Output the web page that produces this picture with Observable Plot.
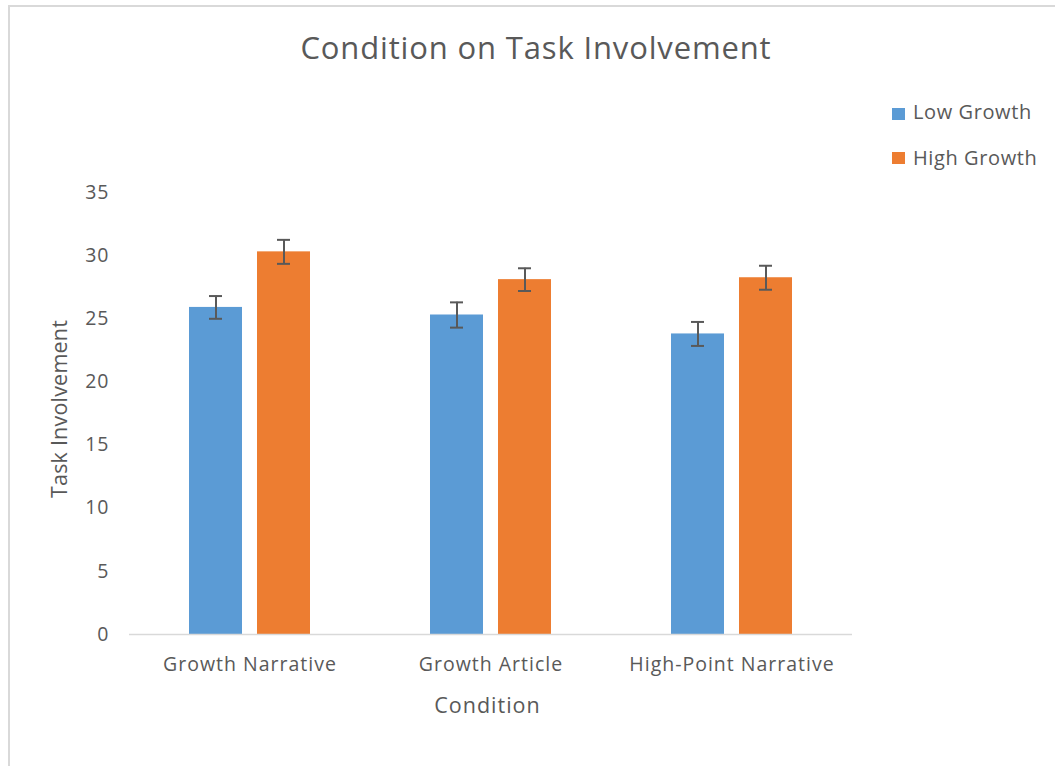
<!DOCTYPE html>
<html>
<head>
<meta charset="utf-8">
<script src="https://cdn.jsdelivr.net/npm/d3@7"></script>
<script src="https://cdn.jsdelivr.net/npm/@observablehq/plot@0.6"></script>
<style>
  html, body { margin: 0; padding: 0; background: #fff; }
  #wrap { position: relative; width: 1055px; height: 766px; overflow: hidden; font-family: "Open Sans", sans-serif; color: #595959; }
  .abs { position: absolute; white-space: nowrap; line-height: 1; }
  #borderTop { position: absolute; left: 8px; top: 5px; width: 1047px; height: 2px; background: #d9d9d9; }
  #borderLeft { position: absolute; left: 8px; top: 5px; width: 2px; height: 761px; background: #d9d9d9; }
  #plot { position: absolute; left: 0; top: 90px; }
  .sw { position: absolute; width: 13px; height: 12px; }
</style>
</head>
<body>
<div id="wrap">
  <div id="borderTop"></div>
  <div id="borderLeft"></div>
  <div class="abs" id="title" style="left:0;width:1072px;text-align:center;top:31.5px;font-size:31px;letter-spacing:0.85px;">Condition on Task Involvement</div>
  <div id="plot"></div>
  <div class="abs" id="xlab" style="left:287.5px;width:400px;text-align:center;top:694px;font-size:21.5px;letter-spacing:1px;">Condition</div>
  <div class="abs" id="ylab" style="left:59px;top:409px;font-size:21.5px;letter-spacing:0.2px;transform:translate(-50%,-50%) rotate(-90deg);">Task Involvement</div>
  <div id="legend"></div>
</div>
<script>
const conditions = ["Growth Narrative", "Growth Article", "High-Point Narrative"];
const series = ["Low Growth", "High Growth"];
const colors = ["#5B9BD5", "#ED7D31"];
const lowMeans = [25.9, 25.3, 23.8];
const highMeans = [30.3, 28.1, 28.25];
const lowErr = [0.9, 1.0, 0.95];
const highErr = [0.95, 0.9, 0.95];
const yTicks = [0, 5, 10, 15, 20, 25, 30, 35];

const data = [];
conditions.forEach((c, i) => {
  data.push({condition: c, series: series[0], mean: lowMeans[i], err: lowErr[i]});
  data.push({condition: c, series: series[1], mean: highMeans[i], err: highErr[i]});
});

const chart = Plot.plot({
  width: 1055,
  height: 676,
  marginLeft: 128,
  marginRight: 203,
  marginTop: 102,
  marginBottom: 132,
  style: {fontFamily: "Open Sans", fontSize: "19.5px", color: "#595959", background: "transparent", letterSpacing: "1px"},
  fx: {domain: conditions, padding: 0, label: null, tickSize: 0, tickPadding: 23},
  x: {domain: series, paddingInner: 0.217, paddingOuter: 0.855, axis: null},
  y: {domain: [0, 35], ticks: yTicks, label: null, tickSize: 0, tickPadding: 20},
  color: {domain: series, range: colors},
  marks: [
    Plot.barY(data, {fx: "condition", x: "series", y: "mean", fill: "series"}),
    Plot.ruleY([0], {stroke: "#d9d9d9", strokeWidth: 1.5}),
    Plot.ruleX(data, {fx: "condition", x: "series", y1: d => d.mean - d.err, y2: d => d.mean + d.err, stroke: "#595959", strokeWidth: 2}),
    Plot.tickY(data, {fx: "condition", x: "series", y: d => d.mean - d.err, stroke: "#595959", strokeWidth: 2, insetLeft: 20, insetRight: 20}),
    Plot.tickY(data, {fx: "condition", x: "series", y: d => d.mean + d.err, stroke: "#595959", strokeWidth: 2, insetLeft: 20, insetRight: 20})
  ]
});
document.getElementById("plot").appendChild(chart);

const legend = document.getElementById("legend");
const legTops = [108, 152];
const legTextTops = [102.2, 148.2];
series.forEach((s, i) => {
  const sw = document.createElement("div");
  sw.className = "sw";
  sw.style.left = "892px";
  sw.style.top = legTops[i] + "px";
  sw.style.background = colors[i];
  legend.appendChild(sw);
  const t = document.createElement("div");
  t.className = "abs";
  t.style.left = "913px";
  t.style.top = legTextTops[i] + "px";
  t.style.fontSize = "20px";
  t.style.letterSpacing = "0.6px";
  t.textContent = s;
  legend.appendChild(t);
});
</script>
</body>
</html>
